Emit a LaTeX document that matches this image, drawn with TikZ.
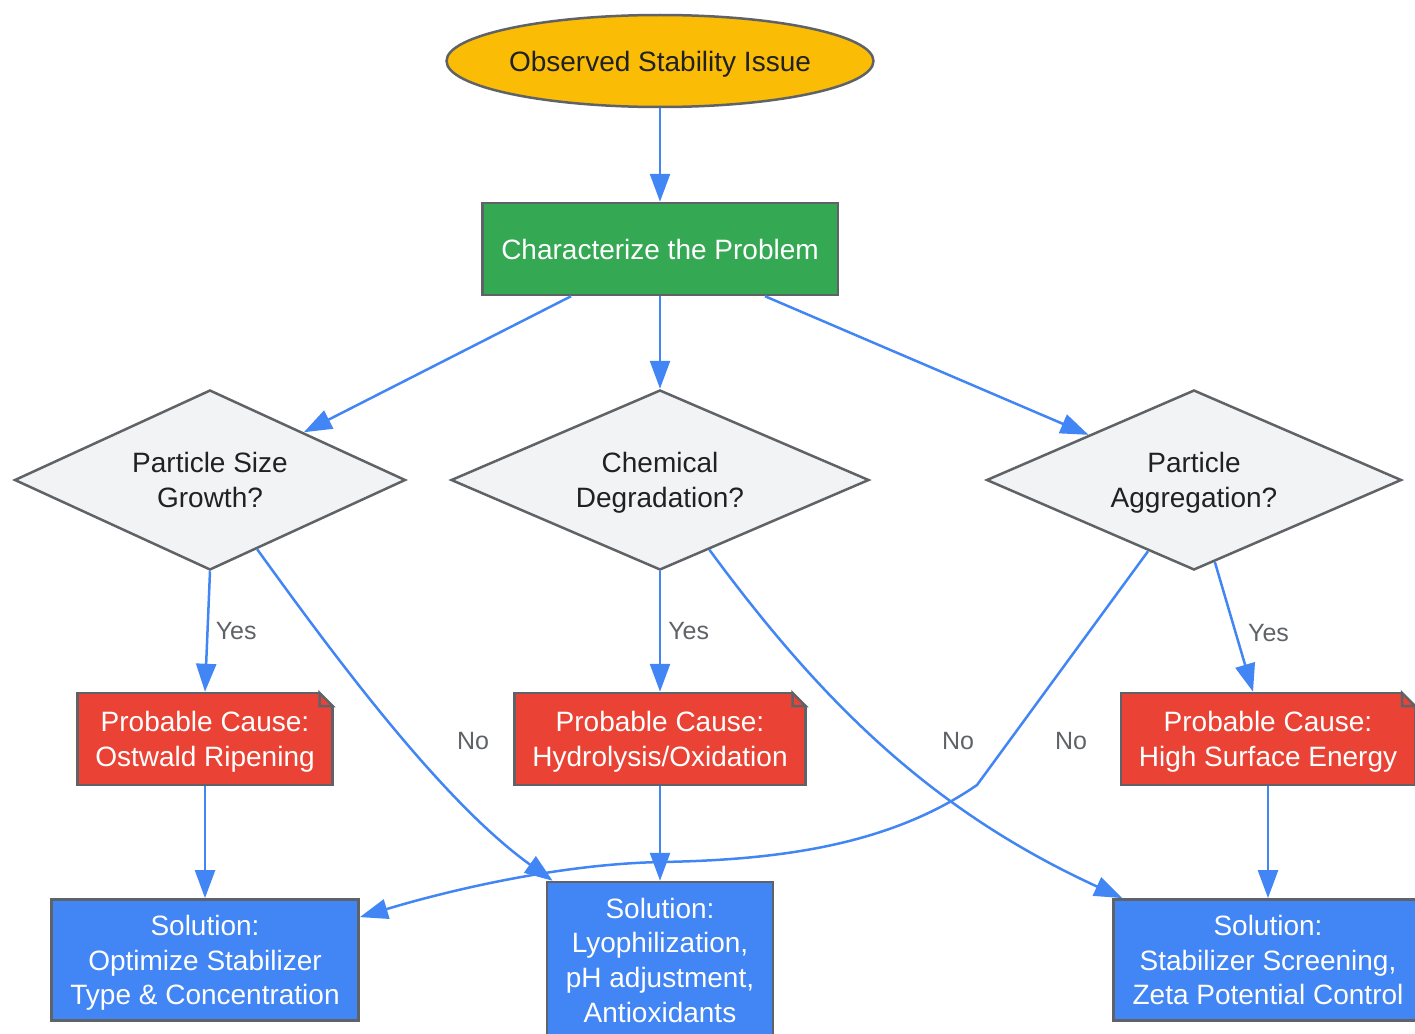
\documentclass[tikz,border=0pt]{standalone}
\usepackage{fontspec}
\setmainfont{Liberation Sans}
\usepackage{tikz}
\usetikzlibrary{arrows.meta,shapes.geometric,calc}

\definecolor{gyellow}{HTML}{FBBC05}
\definecolor{ggreen}{HTML}{34A853}
\definecolor{gred}{HTML}{EA4335}
\definecolor{gblue}{HTML}{4285F4}
\definecolor{gline}{HTML}{5F6368}
\definecolor{gfill}{HTML}{F1F3F4}
\definecolor{gtext}{HTML}{202124}

\tikzset{
  box/.style={draw=gline, line width=2.5pt, align=center, font=\fontsize{28}{34.7}\selectfont, text depth=0pt},
  issue/.style={box, ellipse, fill=gyellow, text=gtext, minimum width=422pt, minimum height=92pt, inner sep=0pt},
  task/.style={box, rectangle, fill=ggreen, text=white, minimum height=92pt, inner xsep=19pt},
  question/.style={box, diamond, fill=gfill, text=gtext, minimum width=391pt, minimum height=180pt, aspect=2.2, inner sep=0pt},
  cause/.style={box, rectangle, fill=gred, text=white, minimum height=92pt, inner xsep=18pt},
  fix/.style={box, rectangle, fill=gblue, text=white, inner xsep=19pt, inner ysep=15.8pt},
  flow/.style={draw=gblue, line width=2.5pt, -{Triangle[length=28pt,width=20pt]}},
  lbl/.style={text=gline, font=\fontsize{25}{28}\selectfont, inner sep=3pt},
}
\newcommand\notefold[1]{%
  \fill[white] ($(#1.north east)+(-17.25,-1.75)$) -- ($(#1.north east)+(1.75,-1.75)$) -- ($(#1.north east)+(1.75,17.25)$) -- cycle;
  \draw[gline, line width=2.5pt, fill=gred, line join=miter] ($(#1.north east)+(-14.25,1.25)$) |- ($(#1.north east)+(-1.25,14.25)$) -- cycle;}

\begin{document}
\begin{tikzpicture}[x=1pt, y=-1pt]
  \useasboundingbox (0,0) rectangle (1415,1033);
  \node[issue] (obs) at (660,61) {Observed Stability Issue};
  \node[task] (char) at (660,249) {Characterize the Problem};
  \node[question] (psg) at (210,480) {Particle Size\\Growth?};
  \node[question, minimum width=418pt] (cdg) at (660,480) {Chemical\\Degradation?};
  \node[question, minimum width=415pt] (pag) at (1194,480) {Particle\\Aggregation?};
  \node[cause] (ost) at (205,739) {Probable Cause:\\Ostwald Ripening};
  \node[cause] (hyd) at (660,739) {Probable Cause:\\Hydrolysis/Oxidation};
  \node[cause] (hse) at (1268,739) {Probable Cause:\\High Surface Energy};
  \notefold{ost} \notefold{hyd} \notefold{hse}
  \node[fix] (opt) at (205,960) {Solution:\\Optimize Stabilizer\\Type \& Concentration};
  \node[fix] (lyo) at (660,960) {Solution:\\Lyophilization,\\pH adjustment,\\Antioxidants};
  \node[fix] (scr) at (1268,960) {Solution:\\Stabilizer Screening,\\Zeta Potential Control};

  \draw[flow] (obs) -- (char);
  \draw[flow] ([xshift=-89pt]char.south) -- (psg);
  \draw[flow] (char) -- (cdg);
  \draw[flow] ([xshift=105pt]char.south) -- (pag);
  \draw[flow] (psg.south) -- node[lbl, right=4pt] {Yes} (ost.north);
  \draw[flow] (cdg) -- node[lbl, right=4pt] {Yes} (hyd);
  \draw[flow] ($(pag.south)!0.1!(pag.east)$) -- node[lbl, pos=0.55, right=8pt] {Yes} ([xshift=-15pt]hse.north);
  \draw[flow] ($(psg.south)!0.24!(psg.east)$) .. controls (330,650) and (440,800) .. ([xshift=7pt]lyo.north west) node[lbl] at (473,741) {No};
  \draw[flow] ($(cdg.south)!0.235!(cdg.east)$) .. controls (820,700) and (930,810) .. ([xshift=10pt]scr.north west) node[lbl] at (958,741) {No};
  \draw[flow] ($(pag.south)!0.22!(pag.west)$) -- (977,785) .. controls (890,845) and (780,860) .. (661,862) .. controls (560,864) and (450,890) .. ([yshift=-19pt]opt.north east) node[lbl] at (1071,741) {No};
  \draw[flow] (ost) -- (opt);
  \draw[flow] (hyd) -- (lyo);
  \draw[flow] (hse) -- (scr);
\end{tikzpicture}
\end{document}
